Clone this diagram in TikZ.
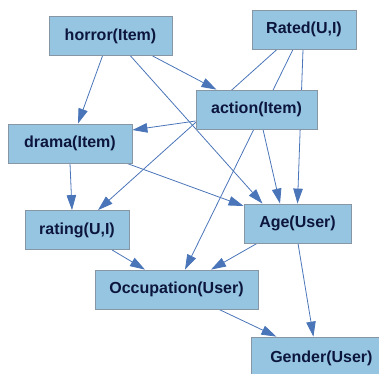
\documentclass[tikz,border=0pt]{standalone}
\usepackage{fontspec}
\setmainfont{Liberation Sans}
\usetikzlibrary{arrows.meta,calc,backgrounds}
\definecolor{boxfill}{RGB}{150,197,226}
\definecolor{boxline}{RGB}{135,150,165}
\definecolor{edgeclr}{RGB}{74,117,184}
\definecolor{txtclr}{RGB}{12,22,60}
\begin{document}
\begin{tikzpicture}[x=1pt,y=-1pt,
  var/.style={rectangle,fill=boxfill,draw=boxline,line width=0.8pt,text=txtclr,
    font=\fontsize{16}{18}\selectfont\bfseries,minimum height=39pt,inner sep=0pt},
  dep/.style={edgeclr,line width=0.8pt,-{Triangle[length=15pt,width=9.5pt]}}]
\useasboundingbox (0,0) rectangle (379,373);
\clip (0,0) rectangle (379,373);
% variables
\node[var,minimum width=123pt] (horror) at (110.5,36) {horror(Item)};
\node[var,minimum width=104pt] (rated) at (304,29.5) {Rated(U,I)};
\node[var,minimum width=121pt] (action) at (256.5,109.5) {action(Item)};
\node[var,minimum width=124pt] (drama) at (70,143.5) {drama(Item)};
\node[var,minimum width=104pt] (rating) at (77,230) {rating(U,I)};
\node[var,minimum width=107pt] (age) at (297.5,223.5) {Age(User)};
\node[var,minimum width=163pt] (occ) at (176.5,289.5) {Occupation(User)};
\node[var,minimum width=140pt,minimum height=42pt,anchor=west] (gender) at (251,358) {Gender(User)};
% dependencies
\begin{scope}[on background layer]
\draw[dep] ($(horror.south)+(-8,0)$) -- ($(drama.north)+(8,0)$);
\draw[dep] ($(horror.south)+(42,0)$) -- ($(action.north)+(-40,0)$);
\draw[dep] ($(horror.south)+(20,0)$) -- ($(age.north)+(-35,0)$);
\draw[dep] ($(rated.south)+(-27,0)$) -- ($(rating.north)+(21,0)$);
\draw[dep] ($(rated.south)+(-11,0)$) -- ($(occ.north)+(8.5,0)$);
\draw[dep] ($(rated.south)+(-1,0)$) -- (age.north);
\draw[dep] ($(action.west)+(0,11.5)$) -- ($(drama.east)+(0,-13.5)$);
\draw[dep] ($(action.south)+(6.5,0)$) -- ($(age.north)+(-17.5,0)$);
\draw[dep] (drama.south) -- ($(rating.north)+(-5,0)$);
\draw[dep] ($(drama.south)+(57,0)$) -- ($(age.west)+(0,-17.5)$);
\draw[dep] ($(rating.south)+(35,0)$) -- ($(occ.north)+(-31.5,0)$);
\draw[dep] ($(age.south)+(-40.5,0)$) -- ($(occ.north)+(34.5,0)$);
\draw[dep] ($(age.south)+(0.5,0)$) -- ($(gender.north)+(-8,0)$);
\draw[dep] ($(occ.south)+(42.5,0)$) -- ($(gender.north)+(-45,0)$);
\end{scope}
\end{tikzpicture}
\end{document}
